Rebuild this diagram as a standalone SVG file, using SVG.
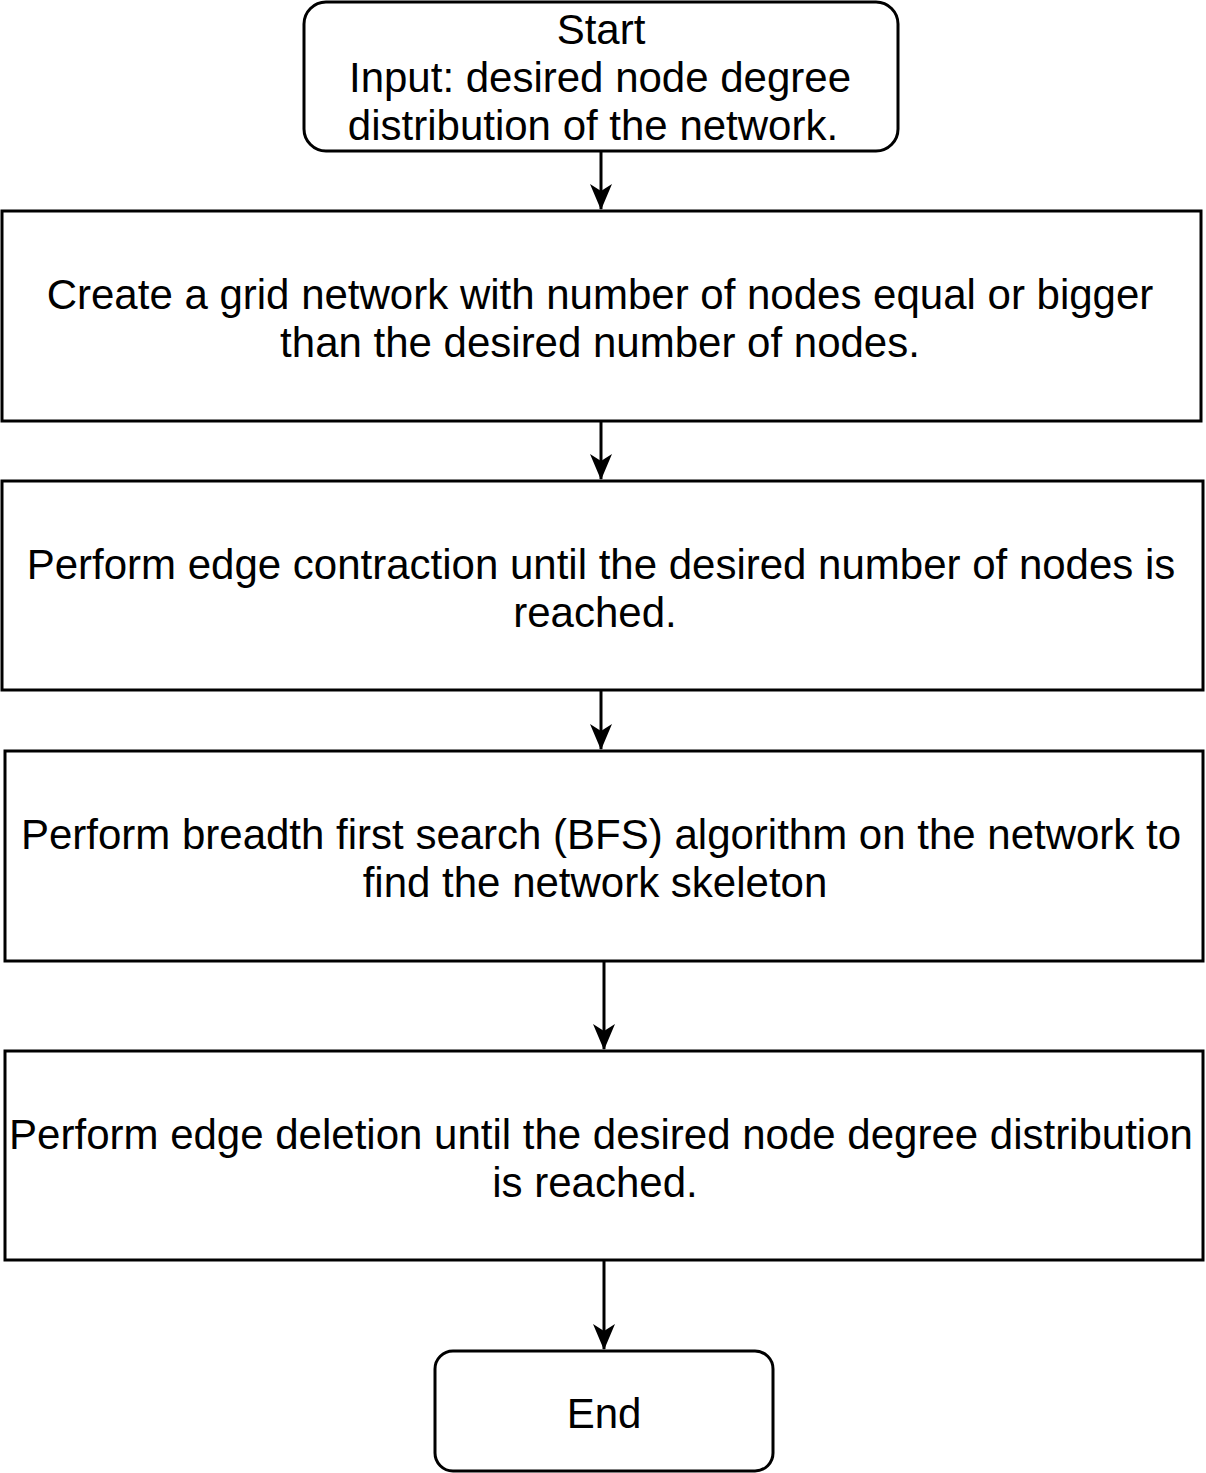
<svg xmlns="http://www.w3.org/2000/svg" width="1206" height="1473" viewBox="0 0 1206 1473">
<style>
.b{fill:#fff;stroke:#000;stroke-width:3}
.t{font-family:"Liberation Sans",Arial,sans-serif;font-size:42px;fill:#000;text-anchor:middle}
.c{stroke:#000;stroke-width:3;fill:none}
</style>
<defs>
<marker id="a" markerWidth="26" markerHeight="22" refX="25" refY="11" orient="auto" markerUnits="userSpaceOnUse" viewBox="0 0 26 22">
<path d="M0,0 L26,11 L0,22 L7,11 Z" fill="#000"/>
</marker>
</defs>
<rect width="1206" height="1473" fill="#fff"/>
<g id="connectors">
<line class="c" x1="601" y1="151" x2="601" y2="209" marker-end="url(#a)"/>
<line class="c" x1="601" y1="421" x2="601" y2="479" marker-end="url(#a)"/>
<line class="c" x1="601" y1="690" x2="601" y2="749" marker-end="url(#a)"/>
<line class="c" x1="604" y1="961" x2="604" y2="1049" marker-end="url(#a)"/>
<line class="c" x1="604" y1="1260" x2="604" y2="1349" marker-end="url(#a)"/>
</g>
<g id="start">
<rect class="b" x="304" y="2" width="594" height="149" rx="22"/>
<text class="t" x="601" y="44">Start</text>
<text class="t" x="600" y="92">Input: desired node degree</text>
<text class="t" x="593" y="140">distribution of the network.</text>
</g>
<g id="grid">
<rect class="b" x="2" y="211" width="1199" height="210"/>
<text class="t" x="600" y="309">Create a grid network with number of nodes equal or bigger</text>
<text class="t" x="600" y="357">than the desired number of nodes.</text>
</g>
<g id="contraction">
<rect class="b" x="2" y="481" width="1201" height="209"/>
<text class="t" x="601" y="579">Perform edge contraction until the desired number of nodes is</text>
<text class="t" x="595" y="627">reached.</text>
</g>
<g id="bfs">
<rect class="b" x="5" y="751" width="1198" height="210"/>
<text class="t" x="601" y="849">Perform breadth first search (BFS) algorithm on the network to</text>
<text class="t" x="595" y="897">find the network skeleton</text>
</g>
<g id="deletion">
<rect class="b" x="5" y="1051" width="1198" height="209"/>
<text class="t" x="601" y="1149">Perform edge deletion until the desired node degree distribution</text>
<text class="t" x="595" y="1197">is reached.</text>
</g>
<g id="end">
<rect class="b" x="435" y="1351" width="338" height="120" rx="18"/>
<text class="t" x="604" y="1428">End</text>
</g>
</svg>
